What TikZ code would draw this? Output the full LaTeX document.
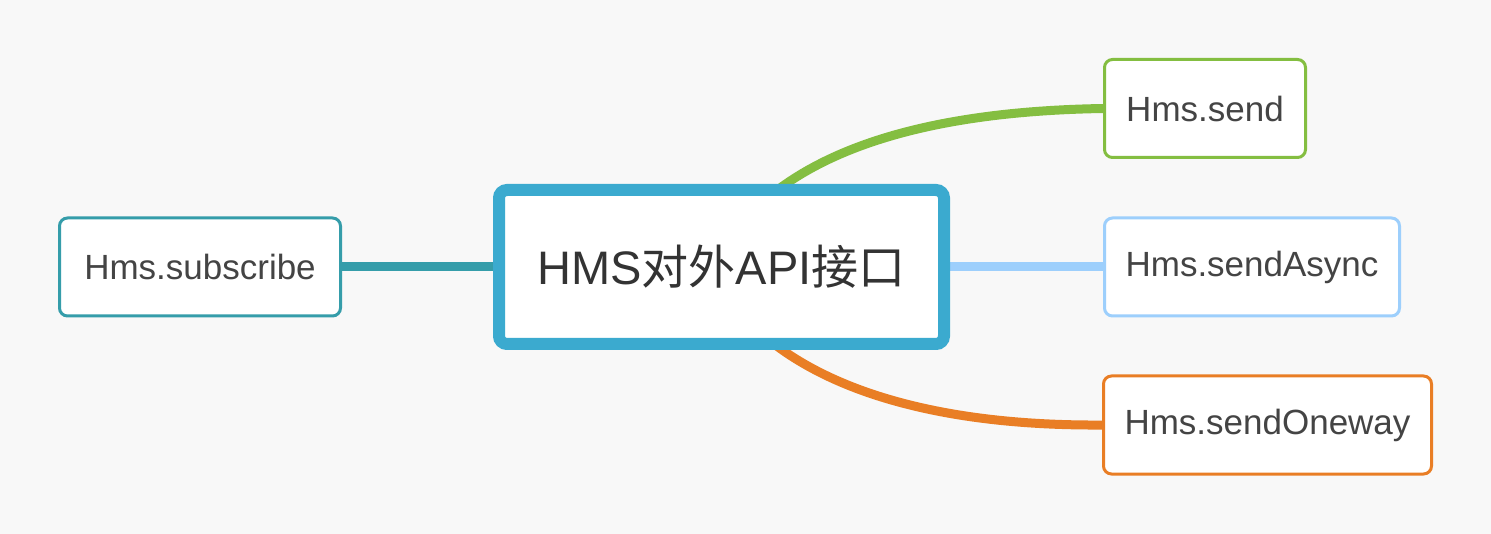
\documentclass[tikz,border=0pt]{standalone}
\usepackage{fontspec}
\setmainfont{Liberation Sans}
\newfontfamily\cjk{Noto Sans CJK SC}
\usetikzlibrary{backgrounds}
\definecolor{bgc}{HTML}{F8F8F8}
\definecolor{mainc}{HTML}{3BAACF}
\definecolor{tealc}{HTML}{359DAA}
\definecolor{greenc}{HTML}{84BE41}
\definecolor{bluec}{HTML}{9DCFFC}
\definecolor{orangec}{HTML}{E97E25}
\definecolor{txtc}{HTML}{333333}
\definecolor{txtb}{HTML}{444444}
\tikzset{
  rootbox/.style={draw=mainc, line width=12pt, fill=white, rounded corners=8pt,
    minimum width=445pt, minimum height=154pt, inner sep=0pt,
    text=txtc, font=\fontsize{47}{52}\selectfont},
  childbox/.style={draw=#1, line width=3pt, fill=white, rounded corners=8pt,
    minimum height=98pt, inner sep=0pt, text=txtb, font=\fontsize{35}{40}\selectfont},
  link/.style={draw=#1, line width=9pt}
}
\begin{document}
\begin{tikzpicture}[x=1pt,y=-1pt]
\useasboundingbox (0,0) rectangle (1491,534);
\node[rootbox] (root) at (721.5,267) {HMS{\cjk 对外}API{\cjk 接口}};
\node[childbox=tealc, minimum width=281pt] (sub) at (200,267) {Hms.subscribe};
\node[childbox=greenc, minimum width=201pt] (send) at (1205,108.5) {Hms.send};
\node[childbox=bluec, minimum width=295pt] (async) at (1252,267) {Hms.sendAsync};
\node[childbox=orangec, minimum width=328pt] (oneway) at (1267.5,425) {Hms.sendOneway};
\coordinate (gs) at (765,200);
\coordinate (os) at (763,335);
\begin{pgfonlayer}{background}
\fill[bgc] (0,0) rectangle (1491,534);
\draw[link=tealc] (sub.east) -- (root.west);
\draw[link=bluec] (root.east) -- (async.west);
\draw[link=greenc] (gs) .. controls (835,140) and (950,111) .. (send.west);
\draw[link=orangec] (os) .. controls (833,395) and (950,426) .. (oneway.west);
\end{pgfonlayer}
\end{tikzpicture}
\end{document}
